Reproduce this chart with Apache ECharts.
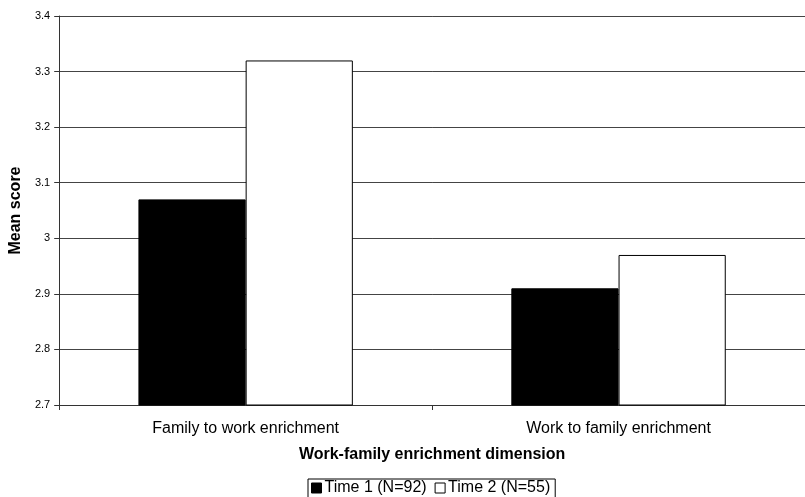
<!DOCTYPE html>
<html>
<head>
<meta charset="utf-8">
<script src="https://cdn.jsdelivr.net/npm/echarts@6/dist/echarts.min.js"></script>
<style>
  html, body { margin: 0; padding: 0; background: #fff; }
  #chart { width: 805px; height: 497px; }
</style>
</head>
<body>
<div id="chart"></div>
<script>
// 类别与数值
var categories = ['Family to work enrichment', 'Work to family enrichment']
var time1 = [3.07, 2.91]
var time2 = [3.32, 2.97]
var seriesNames = ['Time 1 (N=92)', 'Time 2 (N=55)']

var font = 'Liberation Sans, Arial, sans-serif'
var chart = echarts.init(document.getElementById('chart'), null, { renderer: 'canvas' })

chart.setOption({
  animation: false,
  backgroundColor: '#fff',
  grid: {
    left: 57,
    top: 16,
    width: 754,
    height: 389
  },
  legend: {
    left: 308,
    top: 479,
    orient: 'horizontal',
    icon: 'rect',
    itemWidth: 10,
    itemHeight: 10,
    itemGap: 8,
    padding: [1, 5, 3, 3],
    borderColor: '#000',
    borderWidth: 1,
    textStyle: { fontFamily: font, fontSize: 16, color: '#000', padding: [0, 0, 0, -2] },
    data: [
      { name: seriesNames[0], itemStyle: { color: '#000', borderColor: '#000', borderWidth: 1 } },
      { name: seriesNames[1], itemStyle: { color: '#fff', borderColor: '#000', borderWidth: 1 } }
    ]
  },
  xAxis: {
    type: 'category',
    data: categories,
    name: 'Work-family enrichment dimension',
    nameLocation: 'middle',
    nameGap: 42,
    nameTextStyle: { fontFamily: font, fontSize: 16, fontWeight: 'bold', color: '#000' },
    axisLine: { lineStyle: { color: '#333', width: 1 } },
    axisTick: { show: true, length: 5, lineStyle: { color: '#333' } },
    axisLabel: { fontFamily: font, fontSize: 16, color: '#000', margin: 16 }
  },
  yAxis: {
    type: 'value',
    min: 2.7,
    max: 3.4,
    interval: 0.1,
    name: 'Mean score',
    nameLocation: 'middle',
    nameGap: 31,
    nameTextStyle: { fontFamily: font, fontSize: 16, fontWeight: 'bold', color: '#000' },
    axisLine: { show: true, lineStyle: { color: '#333', width: 1 } },
    axisTick: { show: true, length: 5, lineStyle: { color: '#333' } },
    splitLine: { lineStyle: { color: '#444', width: 1 } },
    axisLabel: {
      fontFamily: font,
      fontSize: 11,
      color: '#000',
      margin: 9,
      formatter: function (v) { return String(Math.round(v * 10) / 10) }
    }
  },
  series: [
    {
      name: seriesNames[0],
      type: 'bar',
      data: time1,
      barGap: '0%',
      barCategoryGap: '42.5%',
      itemStyle: { color: '#000', borderColor: '#000', borderWidth: 1 }
    },
    {
      name: seriesNames[1],
      type: 'bar',
      data: time2,
      itemStyle: { color: '#fff', borderColor: '#000', borderWidth: 1 }
    }
  ]
})
</script>
</body>
</html>
